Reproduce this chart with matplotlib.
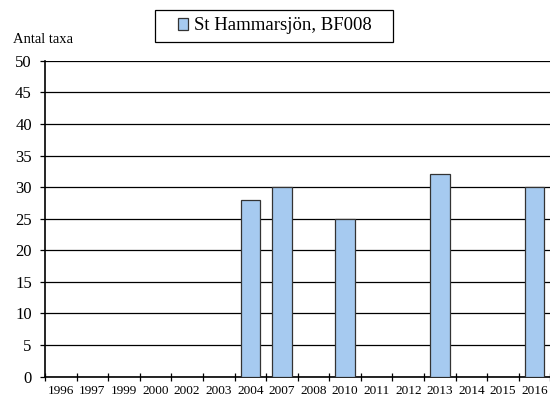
import matplotlib
matplotlib.use("Agg")
import matplotlib.pyplot as plt
from matplotlib.patches import Rectangle
import numpy as np

plt.rcParams['font.family'] = ['Liberation Serif', 'DejaVu Serif']

# data
years = ['1996', '1997', '1999', '2000', '2002', '2003', '2004', '2007',
         '2008', '2010', '2011', '2012', '2013', '2014', '2015', '2016']
antal_taxa = [0, 0, 0, 0, 0, 0, 28, 30, 0, 25, 0, 0, 32, 0, 0, 30]
series_name = 'St Hammarsjön, BF008'

fig = plt.figure(figsize=(5.5, 4.03), dpi=100)
ax = fig.add_axes([0.0818, 0.0653, 0.919, 0.784])

x = np.arange(len(years))
ax.bar(x, antal_taxa, width=0.62, color='#a6caf0', edgecolor='#333333',
       linewidth=0.9, label=series_name, zorder=3)

ax.set_xlim(-0.5, len(years) - 0.5)
ax.set_ylim(0, 50)
ax.set_yticks(np.arange(0, 51, 5))
ax.yaxis.grid(True, color='black', linewidth=0.9, zorder=0)

ax.set_xticks(x)
ax.set_xticklabels(years, fontsize=9.5)
ax.set_xticks(np.arange(-0.5, len(years), 1), minor=True)
ax.tick_params(axis='x', which='major', length=0, pad=6)
ax.tick_params(axis='x', which='minor', length=6, direction='inout', width=0.9)
ax.tick_params(axis='y', labelsize=12, length=3.5, width=0.9, pad=6)

for s in ['top', 'right']:
    ax.spines[s].set_visible(False)
ax.spines['left'].set_linewidth(1.2)
ax.spines['bottom'].set_linewidth(1.2)

fig.text(0.024, 0.903, 'Antal taxa', fontsize=10.5, va='center')

# legend box is wider than matplotlib's padding gives, so frame drawn by hand
leg = fig.legend(loc='center', bbox_to_anchor=(0.5, 0.9355), fontsize=13.5,
                 frameon=False, handlelength=0.55, handleheight=0.55,
                 handletextpad=0.3, borderpad=0, borderaxespad=0)
fig.patches.append(Rectangle((155 / 550, 1 - 42 / 403), 238 / 550, 32 / 403,
                             transform=fig.transFigure, fill=False,
                             edgecolor='black', linewidth=0.9))

fig.savefig('out.png', dpi=100)
